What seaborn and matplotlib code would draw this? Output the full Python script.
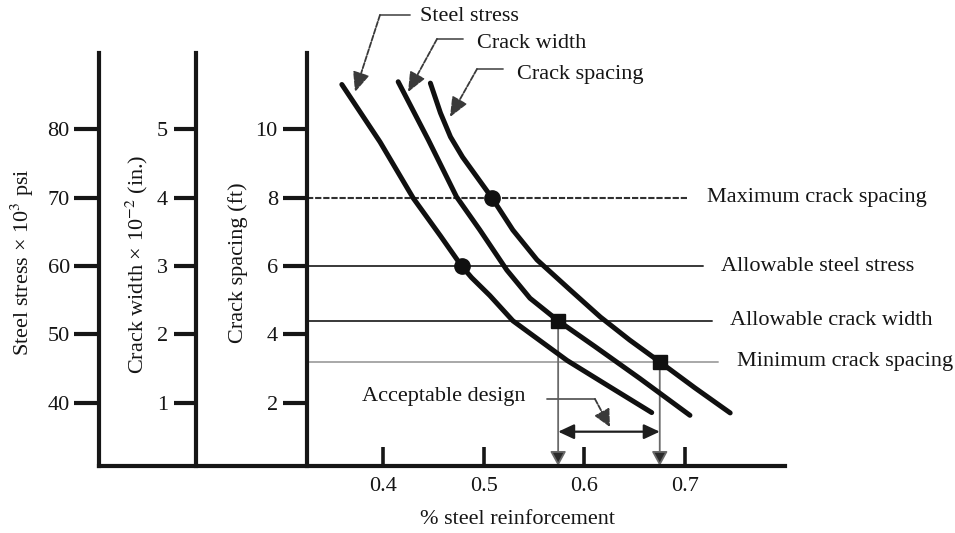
import matplotlib
matplotlib.use("Agg")
import matplotlib.pyplot as plt
import pandas as pd
import seaborn as sns

# ---- design curves: % steel reinforcement against each design quantity ----
stress_pct = [0.359, 0.397, 0.430, 0.457, 0.478, 0.488, 0.506, 0.529, 0.556, 0.583, 0.626, 0.667]
stress_ksi = [86.5, 78.1, 69.9, 64.4, 60.0, 58.3, 55.7, 52.0, 49.1, 46.2, 42.3, 38.6]

width_pct = [0.415, 0.445, 0.473, 0.496, 0.523, 0.546, 0.574, 0.611, 0.655, 0.705]
width_val = [5.69, 4.84, 4.01, 3.53, 2.94, 2.53, 2.20, 1.82, 1.36, 0.82]

spacing_pct = [0.447, 0.457, 0.467, 0.479, 0.508, 0.529, 0.553, 0.586, 0.616, 0.645, 0.675, 0.710, 0.745]
spacing_ft = [11.34, 10.47, 9.77, 9.18, 8.00, 7.05, 6.18, 5.30, 4.51, 3.84, 3.20, 2.44, 1.71]

# ---- design limits ----
max_spacing = 8.0      # ft
allow_stress = 60.0    # ksi
allow_width = 2.2      # x 10^-2 in.
min_spacing = 3.2      # ft

# ---- design points where each curve meets its limit ----
pt_spacing_max = (0.508, 8.0)
pt_stress = (0.478, 60.0)
pt_width = (0.574, 2.2)
pt_spacing_min = (0.675, 3.2)

# ---- tick values ----
x_ticks = [0.4, 0.5, 0.6, 0.7]
x_ticklabels = ["0.4", "0.5", "0.6", "0.7"]
stress_ticks = [40, 50, 60, 70, 80]
width_ticks = [1, 2, 3, 4, 5]
spacing_ticks = [2, 4, 6, 8, 10]

sns.set_theme(style="white")
plt.rcParams["font.family"] = ["Liberation Serif", "DejaVu Serif"]
plt.rcParams["mathtext.fontset"] = "stix"

INK = "#161616"
TXT = "#151515"
FS = 16

W, H = 955, 533
fig = plt.figure(figsize=(W / 100, H / 100), dpi=100)
fig.patch.set_facecolor("white")

ax = fig.add_axes([99 / W, 1 - 466 / H, (785 - 99) / W, (466 - 53) / H])
ax_w = ax.twinx()
ax_s = ax.twinx()

xlim = (0.1176, 0.7995)
ax.set_xlim(*xlim)
ax.set_ylim(30.8, 91.1)
ax_w.set_ylim(0.08, 6.11)
ax_s.set_ylim(0.16, 12.22)

# ---- spines: three vertical scales on the left, baseline at the bottom ----
for a in (ax, ax_w, ax_s):
    for side in ("top", "right"):
        a.spines[side].set_visible(False)
    a.spines["left"].set_visible(True)
    a.spines["left"].set_linewidth(3.0)
    a.spines["left"].set_color(INK)
    a.yaxis.set_ticks_position("left")
    a.yaxis.set_label_position("left")
    a.grid(False)
for a in (ax_w, ax_s):
    a.spines["bottom"].set_visible(False)
ax.spines["bottom"].set_linewidth(3.0)
ax.spines["bottom"].set_color(INK)

pos_w = (196 - 99) / (785 - 99)
pos_s = (307 - 99) / (785 - 99)
ax_w.spines["left"].set_position(("axes", pos_w))
ax_s.spines["left"].set_position(("axes", pos_s))
x_axis_s = xlim[0] + pos_s * (xlim[1] - xlim[0])

ax.set_xticks(x_ticks)
ax.set_xticklabels(x_ticklabels)
ax.tick_params(axis="x", direction="in", length=14, width=2.6, color=INK,
               pad=8, labelsize=FS, labelcolor=TXT, bottom=True)
ax.set_yticks(stress_ticks)
ax.tick_params(axis="y", direction="out", length=18, width=3, color=INK,
               pad=3, labelsize=FS, labelcolor=TXT, left=True)
ax_w.set_yticks(width_ticks)
ax_w.tick_params(axis="y", direction="out", length=16, width=3, color=INK,
                 pad=4, labelsize=FS, labelcolor=TXT, left=True, right=False)
ax_s.set_yticks(spacing_ticks)
ax_s.tick_params(axis="y", direction="out", length=17, width=3, color=INK,
                 pad=4, labelsize=FS, labelcolor=TXT, left=True, right=False)

# ---- limit lines (drawn low so the curves sit on top) ----
ax.plot([x_axis_s, 0.7031], [max_spacing] * 2, transform=ax_s.transData,
        color="#303030", lw=1.5, ls=(0, (3, 0.9)), zorder=1)
ax.plot([x_axis_s, 0.7180], [allow_stress] * 2, color="#383838", lw=1.4, zorder=1)
ax.plot([x_axis_s, 0.7269], [allow_width] * 2, transform=ax_w.transData,
        color="#383838", lw=1.4, zorder=1)
ax.plot([x_axis_s, 0.7329], [min_spacing] * 2, transform=ax_s.transData,
        color="#a8a8a8", lw=1.4, zorder=1)

lbl = dict(fontsize=FS, color=TXT, ha="left", va="center", clip_on=False)
ax.text(0.7220, max_spacing, "Maximum crack spacing", transform=ax_s.transData, **lbl)
ax.text(0.7359, allow_stress, "Allowable steel stress", **lbl)
ax.text(0.7448, allow_width, "Allowable crack width", transform=ax_w.transData, **lbl)
ax.text(0.7518, min_spacing, "Minimum crack spacing", transform=ax_s.transData, **lbl)

# ---- drop lines from the governing points down to the reinforcement axis ----
drop = dict(arrowstyle="-|>,head_length=0.55,head_width=0.3", color="#6a6a6a",
            lw=1.3, shrinkA=0, shrinkB=0, mutation_scale=16)
for xy0, xy1, tr in ((pt_width, (pt_width[0], 0.08), ax_w.transData),
                     (pt_spacing_min, (pt_spacing_min[0], 0.16), ax_s.transData)):
    arr = ax.annotate("", xy=xy1, xytext=xy0, xycoords=tr, textcoords=tr,
                      arrowprops=drop, zorder=2)
    arr.arrow_patch.set_facecolor("#2a2a2a")

# acceptable range of reinforcement
ax.annotate("", xy=(pt_width[0], 1.162), xytext=(pt_spacing_min[0], 1.162),
            xycoords=ax_s.transData, textcoords=ax_s.transData,
            arrowprops=dict(arrowstyle="<|-|>,head_length=0.6,head_width=0.28",
                            color="#1e1e1e", lw=1.6, shrinkA=0, shrinkB=0,
                            mutation_scale=16), zorder=2)
ax.text(0.4605, 2.175, "Acceptable design", transform=ax_s.transData,
        fontsize=FS, color=TXT, ha="center", va="center")
ax.plot([0.5629, 0.6106], [2.117, 2.117], transform=ax_s.transData,
        color="#5a5a5a", lw=1.3, zorder=2)
ax.annotate("", xy=(0.6255, 1.299), xytext=(0.6106, 2.117),
            xycoords=ax_s.transData, textcoords=ax_s.transData,
            arrowprops=dict(arrowstyle="-|>,head_length=0.65,head_width=0.32",
                            color="#3a3a3a", lw=1.3, ls=(0, (3, 1)),
                            shrinkA=0, shrinkB=0, mutation_scale=16), zorder=2)

# ---- the three design curves ----
curve = dict(color="#101010", linewidth=3.6, estimator=None, sort=False)
sns.lineplot(data=pd.DataFrame({"pct": stress_pct, "val": stress_ksi}),
             x="pct", y="val", ax=ax, zorder=4, **curve)
sns.lineplot(data=pd.DataFrame({"pct": width_pct, "val": width_val}),
             x="pct", y="val", ax=ax_w, zorder=4, **curve)
sns.lineplot(data=pd.DataFrame({"pct": spacing_pct, "val": spacing_ft}),
             x="pct", y="val", ax=ax_s, zorder=4, **curve)

ax.plot(*pt_stress, "o", color="#101010", ms=11, zorder=5)
ax_s.plot(*pt_spacing_max, "o", color="#101010", ms=11, zorder=5)
ax_w.plot(*pt_width, "s", color="#101010", ms=10, zorder=5)
ax_s.plot(*pt_spacing_min, "s", color="#101010", ms=10, zorder=5)

# ---- curve call-outs above the chart ----
callouts = [
    ("Steel stress", (0.4367, 13.28), (0.4267, 0.3969, 13.33), (0.3721, 11.08)),
    ("Crack width", (0.4933, 12.50), (0.4794, 0.4536, 12.63), (0.4248, 11.08)),
    ("Crack spacing", (0.5331, 11.60), (0.5192, 0.4933, 11.75), (0.4665, 10.35)),
]
for text, tpos, (hx0, hx1, hy), tip in callouts:
    ax.text(*tpos, text, transform=ax_s.transData, fontsize=FS, color=TXT,
            ha="left", va="center", clip_on=False)
    ax.plot([hx0, hx1], [hy, hy], transform=ax_s.transData, color="#5a5a5a",
            lw=1.3, clip_on=False, zorder=2)
    ax.annotate("", xy=tip, xytext=(hx1, hy),
                xycoords=ax_s.transData, textcoords=ax_s.transData,
                arrowprops=dict(arrowstyle="-|>,head_length=0.75,head_width=0.32",
                                color="#3a3a3a", lw=1.3, ls=(0, (3, 1)),
                                shrinkA=0, shrinkB=0, mutation_scale=16),
                annotation_clip=False, zorder=2)

# ---- axis titles ----
ax.set_xlabel("% steel reinforcement", fontsize=FS, color=TXT, va="center")
ax.xaxis.set_label_coords((517 - 99) / (785 - 99), (466 - 519) / (466 - 53))
ax.set_ylabel("Steel stress \u00d7 10$^3$ psi", fontsize=FS, color=TXT, va="center")
ax.yaxis.set_label_coords((22 - 99) / (785 - 99), (466 - 262) / (466 - 53))
ax_w.set_ylabel("Crack width \u00d7 10$^{-2}$ (in.)", fontsize=FS, color=TXT, va="center")
ax_w.yaxis.set_label_coords((137 - 99) / (785 - 99), (466 - 264) / (466 - 53))
ax_s.set_ylabel("Crack spacing (ft)", fontsize=FS, color=TXT, va="center")
ax_s.yaxis.set_label_coords((238 - 99) / (785 - 99), (466 - 263) / (466 - 53))

fig.savefig("out.png", dpi=100, facecolor="white")
